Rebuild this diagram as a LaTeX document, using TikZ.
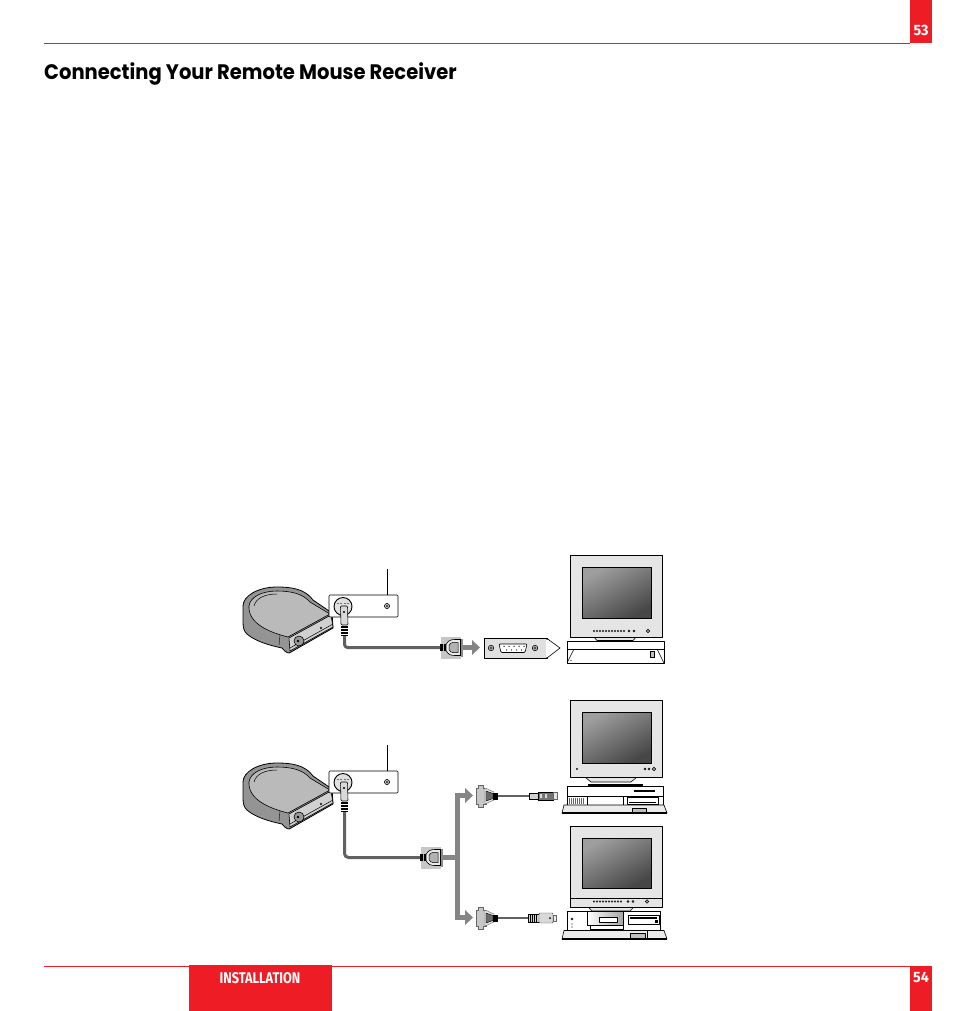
\documentclass[tikz,border=0pt]{standalone}
\usepackage{fontspec}
\setmainfont{Poppins}
\newfontfamily\headfont{Fira Sans}
\definecolor{pagered}{HTML}{EE1C25}
\tikzset{
  x=1pt,y=-1pt,
  ln/.style={draw=black,line width=.6pt,line join=round},
  cablegray/.style={draw=black!62,line width=3pt,line join=round},
  flowarrow/.style={draw=black!48,line width=5pt,line join=miter},
  tabtext/.style={text=white,inner sep=0pt},
  screenface/.style={draw=black,line width=.8pt,shading=axis,left color=black!38,right color=black!72,shading angle=30},
  pics/receiver/.style={code={
    \path[ln,fill=black!42,line width=.8pt] (243,606) .. controls (243,596) and (258,587) .. (277,587)
      .. controls (292,587) and (305,589) .. (313,600) -- (332,613) -- (333,628) -- (291,652)
      .. controls (289,654) and (286,653) .. (282,648) .. controls (268,645) and (255,641) .. (247,634)
      .. controls (244,631) and (243,628) .. (243,622) -- cycle;
    \path[ln,fill=black!27] (249,606) .. controls (250,597) and (262,591) .. (277,591)
      .. controls (292,591) and (303,594) .. (310,602) -- (330,614) -- (288,637)
      .. controls (268,632) and (248,623) .. (249,606) -- cycle;
    \draw[black,line width=.5pt] (254,606) .. controls (256,598) and (265,594) .. (277,594);
    \draw[black,line width=.4pt] (279,645) -- (280,635);
    \path[ln,fill=black!18] (289,638) -- (331,615) -- (333,627) -- (290,651) -- cycle;
    \draw[black,line width=.5pt] (290,648) -- (333,624);
    \path[fill=black!40,draw=black,line width=.6pt] (299,641) circle[radius=5];
    \fill[black] (298,641) circle[radius=1.3];
    \fill[black] (321,628) circle[radius=1.1];
    \path[ln,fill=white,rounded corners=1pt] (329,595) rectangle (398,617);
    \path[draw=black,line width=.9pt,fill=black!12] (343,606.5) circle[radius=9];
    \foreach \xx in {338,341,345,348} \fill[black] (\xx,603.5) circle[radius=.7];
    \draw[black,fill=black!30,line width=.5pt] (387,606) circle[radius=2.6];
    \fill[black] (387,606) circle[radius=.8];
    \draw[black,line width=.7pt] (387,569) -- (387,595);
    \path[ln,fill=black!15,rounded corners=1pt] (340.5,606) -- (347.5,606) -- (348,625) -- (341,625) -- cycle;
    \fill[black] (344,612) circle[radius=1.1];
    \foreach \yy in {627,630,633,635.5}
      \draw[black,line width=1.1pt] (341,\yy) -- (348,\yy);
    \coordinate (-plug) at (344.5,636);
  }},
  pics/dbfront/.style={code={
    \path[fill=black!22] (-10,-11) rectangle (10,11);
    \fill[black!45] (10,-9) rectangle (12,9);
    \path[draw=black,fill=black!8,line width=.6pt] (-5,-3) .. controls (-3,-7) and (0,-8) .. (4,-8) -- (9.5,-8) -- (9.5,8) -- (4,8) .. controls (0,8) and (-3,7) .. (-5,3) -- cycle;
    \path[draw=black,fill=black!30,line width=.5pt] (-2,-2) .. controls (-1,-4) and (0,-5) .. (2,-5) -- (7,-5) -- (7,5) -- (2,5) .. controls (0,5) and (-1,4) .. (-2,2) -- cycle;
    \fill[black] (-11,-3.5) rectangle (-5,3.5);
    \draw[black!30,line width=.6pt] (-8,-3.5) -- (-8,3.5);
    \coordinate (-cable) at (-11,0);
    \coordinate (-flange) at (12,0);
  }},
  pics/dbside/.style={code={
    \path[draw=black!60,fill=black!22,line width=.4pt] (2,-11) -- (7,-11) -- (7,-8) -- (10,-8) -- (10,8) -- (7,8) -- (7,11) -- (2,11) -- (2,8) -- (0,8) -- (0,-8) -- (2,-8) -- cycle;
    \path[draw=black!60,fill=black!10,line width=.4pt] (9,-8) -- (18,-4) -- (18,4) -- (9,8) -- cycle;
    \path[draw=black,fill=black!58,line width=.4pt] (10,-5) -- (17,-2.5) -- (17,2.5) -- (10,5) -- cycle;
    \fill[black] (17,-3.5) rectangle (22,3.5);
    \coordinate (-cable) at (22,0);
  }},
}
\begin{document}
\begin{tikzpicture}
\useasboundingbox (0,0) rectangle (954,1011);
\fill[white] (0,0) rectangle (954,1011);
% page furniture
\draw[pagered,line width=.9pt] (44,43.5) -- (910,43.5);
\draw[pagered,line width=.9pt] (44,966.5) -- (910,966.5);
\fill[pagered] (910,0) rectangle (932,43.5);
\fill[pagered] (910,966) rectangle (932,1011);
\fill[pagered] (189,965) rectangle (332,1011);
\node[tabtext,xscale=.95,font=\headfont\bfseries\fontsize{15}{15}\selectfont] (p53) at (921,30.5) {53};
\node[tabtext,xscale=.95,font=\headfont\bfseries\fontsize{15}{15}\selectfont] (p54) at (921,977.5) {54};
\node[tabtext,xscale=.82,font=\headfont\bfseries\fontsize{15.5}{15.5}\selectfont] (inst) at (260,978) {INSTALLATION};
\node[anchor=base west,inner sep=0pt,font=\bfseries\fontsize{21}{21}\selectfont,xscale=.93] (title) at (44,80) {Connecting Your Remote Mouse Receiver};

% ---------- top set ----------
\pic (r1) at (0,0) {receiver};
\pic (c1) at (451,647.5) {dbfront};
\draw[cablegray,rounded corners=3pt] (r1-plug) |- (c1-cable);
\draw[draw=black!48,line width=5pt] (463,647.5) -- (473,647.5);
\fill[black!48] (472,640) -- (480,647.5) -- (472,655) -- cycle;
% card
\path[ln,fill=black!12] (484,638) -- (547,638) -- (547,658) -- (484,658) -- cycle;
\path[fill=white,draw=black,line width=.6pt] (547,638.5) -- (560,648) -- (547,658) -- cycle;
\fill[white] (546.4,640) -- (548,640) -- (548,656.5) -- (546.4,656.5) -- cycle;
\foreach \xx in {491,535} {
  \draw[black,fill=black!35,line width=.5pt] (\xx,648) circle[radius=2.8];
  \fill[black] (\xx,648) circle[radius=.9];
}
\path[ln,fill=white,rounded corners=1pt] (499,644) -- (527,644) -- (525,652.5) -- (501,652.5) -- cycle;
\foreach \xx in {504,509,514,519,524} \fill[black] (\xx,646.3) circle[radius=.7];
\foreach \xx in {506.5,511.5,516.5,521.5} \fill[black] (\xx,650) circle[radius=.7];
% monitor A
\path[ln,fill=black!10] (593,636) -- (637,636) -- (633,640.5) -- (597,640.5) -- cycle;
\path[ln,fill=black!10] (570,555) rectangle (662,637);
\shade[screenface] (582,567) rectangle (651,618);
\foreach \xx in {594,597,600,603,606,609,612,615,618,621,624} \draw[black,line width=.4pt] (\xx,631) circle[radius=.9];
\foreach \xx in {629,634} \draw[black,line width=.4pt] (\xx,631) circle[radius=1];
\draw[black,fill=black!35,line width=.6pt] (648,631) circle[radius=1.7];
% base A
\path[ln,fill=white] (567,641) rectangle (664,663);
\draw[black,line width=.6pt] (567,649) -- (664,649);
\draw[black,line width=.5pt] (567,663) -- (574,649) (664,663) -- (657,649);
\path[draw=black,fill=black!25,line width=.6pt] (650,651.5) rectangle (654,657);
\fill[black] (571,660.5) circle[radius=.6];

% ---------- bottom set ----------
\pic (r2) at (0,176) {receiver};
\pic (c3) at (431,857.5) {dbfront};
\draw[cablegray,rounded corners=4pt] (r2-plug) |- (c3-cable);
\draw[flowarrow] (c3-flange) -- (457.5,857.5);
\draw[flowarrow] (467,795.5) -- (457.5,795.5) -- (457.5,917.5) -- (467,917.5);
\fill[black!48] (465,788) -- (473,795.5) -- (465,803) -- cycle;
\fill[black!48] (465,910) -- (473,917.5) -- (465,925) -- cycle;

% connector + plug upper
\pic (c2) at (476,796) {dbside};
\coordinate (plugB) at (529,796);
\draw[draw=black!62,line width=2.2pt] (c2-cable) -- (plugB);
\path[draw=black,fill=black!18,line width=.3pt] (529,793) rectangle (538,799.5);
\path[draw=black,fill=black!55,line width=.4pt] (538,792) rectangle (553,800);
\fill[black!15] (540,794) rectangle (542,798) (545,794) rectangle (547,798);
\path[draw=black!60,fill=black!10,line width=.3pt] (553,792.5) rectangle (557,799.5);

% connector + plug lower
\pic (c4) at (476,918) {dbside};
\coordinate (plugC) at (528,918);
\draw[draw=black!62,line width=2.2pt] (c4-cable) -- (plugC);
\path[draw=black,fill=black!18,line width=.4pt] (528,914) rectangle (539,922);
\foreach \xx in {530,532,534,536} \draw[black,line width=.6pt] (\xx,914) -- (\xx,922);
\path[draw=black!70,fill=black!15,line width=.4pt,rounded corners=1pt] (539,913) rectangle (553,923);
\fill[black] (550,918) circle[radius=1];
\path[draw=black!60,fill=black!8,line width=.3pt] (553,915) rectangle (556,921);

% monitor B
\path[ln,fill=black!10] (585,777) -- (637,777) -- (631,782) -- (591,782) -- cycle;
\path[ln,fill=black!10] (570,700) rectangle (662,777);
\shade[screenface] (582,712) rectangle (651,763);
\draw[black,line width=.4pt] (577,769) circle[radius=.8];
\foreach \xx in {645,649} \draw[black,line width=.4pt] (\xx,769) circle[radius=1];
\draw[black,fill=black!35,line width=.6pt] (654,769) circle[radius=1.8];
\draw[black,line width=1.6pt] (588,785) -- (643,785);
% desktop B
\path[ln,fill=white] (567,786) rectangle (663,805);
\draw[black,line width=.4pt] (567,796.5) -- (663,796.5) (587,796.5) -- (587,805) (623,796.5) -- (623,805);
\fill[black!60] (569,797.5) rectangle (585,804);
\foreach \xx in {570,572,...,584} \draw[white,line width=.5pt] (\xx,797.5) -- (\xx,804);
\draw[black,line width=1.8pt] (634,791) -- (655,791);
\path[ln,fill=white] (627,797) rectangle (658,804);
\draw[black,line width=1pt] (629,802) -- (656,802);
\path[ln,fill=black!8] (562,813) -- (564,805) -- (664,805) -- (667,813) -- cycle;
\draw[black,line width=1.2pt] (562,813) -- (667,813);
\path[ln,fill=black!25] (632,808) rectangle (646,812.5);
\draw[black,line width=1pt] (632,808) -- (646,808);

% monitor C
\path[ln,fill=black!10] (588,907) -- (634,907) -- (630,911) -- (592,911) -- cycle;
\path[ln,fill=black!10] (570,826) rectangle (662,907);
\shade[screenface] (582,838) rectangle (651,888);
\draw[black,line width=.5pt] (570,898) -- (662,898);
\foreach \xx in {594,597,600,603,606,609,612,615,618,621} \draw[black,line width=.4pt] (\xx,901.5) circle[radius=.9];
\foreach \xx in {628,633} \draw[black,line width=.4pt] (\xx,901.5) circle[radius=1];
\draw[black,fill=black!35,line width=.6pt] (647,901.5) circle[radius=1.7];
% desktop C
\path[ln,fill=white] (567,911) rectangle (660,933);
\shade[draw=black,line width=.6pt,left color=white,right color=black!35] (587,911) rectangle (623,925);
\path[ln,fill=white] (590,925) rectangle (623,929.5);
\path[ln,fill=white] (599,917) rectangle (617,922);
\draw[black,line width=1.2pt] (601,917.5) -- (617,917.5);
\path[ln,fill=white] (628,915) rectangle (659,924);
\draw[black,line width=1.4pt] (630,918) -- (657,918);
\fill[black] (655,920) rectangle (658,923);
\draw[black,line width=.4pt] (572,919) circle[radius=1];
\fill[black] (572,924) circle[radius=.6] (572,927) circle[radius=.6];
\path[ln,fill=black!8] (562,939) -- (564,930.5) -- (664,930.5) -- (667,939) -- cycle;
\draw[black,line width=1.2pt] (562,939) -- (667,939);
\path[ln,fill=black!25] (630,933) rectangle (645,938.5);
\draw[black,line width=1pt] (630,933) -- (645,933);
\draw[black,line width=.6pt] (647,931) -- (647,939);
\end{tikzpicture}
\end{document}
